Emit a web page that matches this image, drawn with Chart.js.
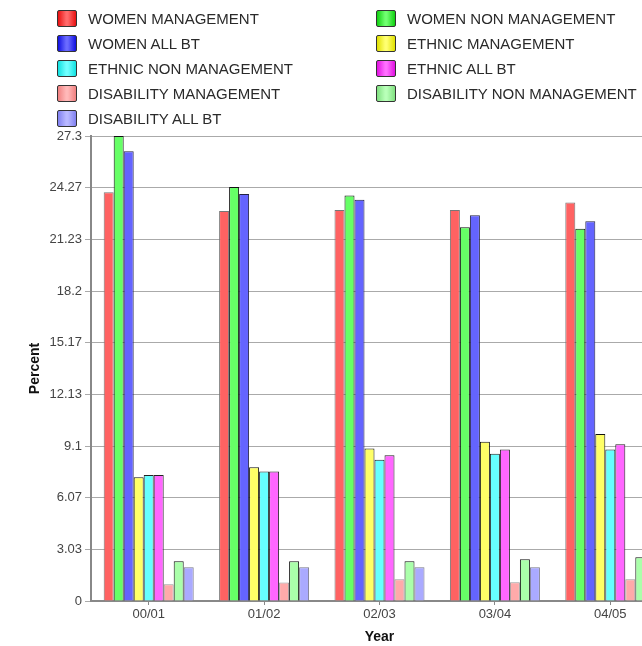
<!DOCTYPE html>
<html>
<head>
<meta charset="utf-8">
<script src="https://cdn.jsdelivr.net/npm/chart.js@4/dist/chart.umd.min.js"></script>
<style>
  html, body { margin: 0; padding: 0; background: #fff; overflow: hidden; }
  #wrap { position: relative; width: 700px; height: 646px; }
  #chart { position: absolute; left: 0; top: 0; }
  #legend { position: absolute; left: 0; top: 0; width: 700px; height: 130px;
    font-family: "Liberation Sans", Arial, sans-serif; font-size: 15px; color: #2a2a2a; }
  .item { position: absolute; height: 17px; line-height: 17px; white-space: nowrap; }
  .box { position: absolute; left: 0; top: 0; width: 18px; height: 15px;
    border: 1px solid #333; border-radius: 2px; }
  .lbl { position: absolute; left: 31px; top: 0; }
</style>
</head>
<body>
<div id="wrap">
  <canvas id="chart" width="700" height="646"></canvas>
  <div id="legend"></div>
</div>
<script>
// Financial years on the category axis
const years = ['00/01', '01/02', '02/03', '03/04', '04/05'];

// Representation figures (percent) per group
const womenManagement       = [24.0, 22.9, 22.95, 22.95, 23.4];
const womenNonManagement    = [27.3, 24.3, 23.8, 21.95, 21.85];
const womenAllBT            = [26.4, 23.9, 23.55, 22.65, 22.3];
const ethnicManagement      = [7.27, 7.85, 8.95, 9.35, 9.8];
const ethnicNonManagement   = [7.4, 7.6, 8.3, 8.65, 8.9];
const ethnicAllBT           = [7.4, 7.6, 8.55, 8.9, 9.2];
const disabilityManagement  = [0.98, 1.08, 1.28, 1.1, 1.28];
const disabilityNonMgmt     = [2.33, 2.33, 2.33, 2.45, 2.57];
const disabilityAllBT       = [1.98, 1.98, 1.98, 1.98, 2.0];

// Value axis
const yMax = 27.3;
const yTickLabels = ['0', '3.03', '6.07', '9.1', '12.13', '15.17', '18.2', '21.23', '24.27', '27.3'];

const seriesNames = [
  'WOMEN MANAGEMENT', 'WOMEN NON MANAGEMENT', 'WOMEN ALL BT',
  'ETHNIC MANAGEMENT', 'ETHNIC NON MANAGEMENT', 'ETHNIC ALL BT',
  'DISABILITY MANAGEMENT', 'DISABILITY NON MANAGEMENT', 'DISABILITY ALL BT'
];
const seriesValues = [
  womenManagement, womenNonManagement, womenAllBT,
  ethnicManagement, ethnicNonManagement, ethnicAllBT,
  disabilityManagement, disabilityNonMgmt, disabilityAllBT
];

// Bar fills, outlines and legend swatch shading
const fills   = ['#ff6262', '#66ff66', '#6464ff', '#ffff66', '#66ffff', '#ff66ff', '#ffaaaa', '#aaffaa', '#aaaaff'];
const borders = ['#777777', '#111111', '#222244', '#111111', '#222222', '#222222', '#999999', '#111111', '#777788'];
const swatchEdge = ['#e81010', '#10d010', '#1010e0', '#e0e000', '#10e0e0', '#e010e0', '#f08080', '#80e080', '#8080f0'];
const swatchMid  = ['#ff6a6a', '#70ff70', '#6a6aff', '#ffff70', '#70ffff', '#ff70ff', '#ffb8b8', '#b8ffb8', '#b8b8ff'];

const FONT = '"Liberation Sans", Arial, sans-serif';

// HTML legend in two columns, filled row by row
const legendEl = document.getElementById('legend');
seriesNames.forEach((name, i) => {
  const col = i % 2, row = Math.floor(i / 2);
  const item = document.createElement('div');
  item.className = 'item';
  item.style.left = (col === 0 ? 57 : 376) + 'px';
  item.style.top = (10 + row * 25) + 'px';
  const box = document.createElement('div');
  box.className = 'box';
  box.style.background = `linear-gradient(to right, ${swatchEdge[i]} 0%, ${swatchMid[i]} 45%, ${swatchMid[i]} 55%, ${swatchEdge[i]} 100%)`;
  const lbl = document.createElement('span');
  lbl.className = 'lbl';
  lbl.textContent = name;
  item.appendChild(box);
  item.appendChild(lbl);
  legendEl.appendChild(item);
});

const datasets = seriesValues.map((vals, i) => ({
  label: seriesNames[i],
  data: vals,
  backgroundColor: fills[i],
  borderColor: borders[i],
  borderWidth: 1,
  barPercentage: 1.0,
  categoryPercentage: 0.78
}));

const tickValues = yTickLabels.map((_, k) => k * yMax / (yTickLabels.length - 1));

new Chart(document.getElementById('chart'), {
  type: 'bar',
  data: { labels: years, datasets },
  options: {
    responsive: false,
    animation: false,
    layout: { padding: { top: 136, right: 32, bottom: 0, left: 0 } },
    plugins: { legend: { display: false }, tooltip: { enabled: false } },
    scales: {
      x: {
        grid: { display: true, drawOnChartArea: false, offset: false, tickLength: 4, color: '#888' },
        border: { display: true, color: '#888', width: 2 },
        ticks: { color: '#444', padding: 2, font: { family: FONT, size: 13 } },
        title: { display: true, text: 'Year', color: '#111', padding: { top: 0, bottom: 0 },
          font: { family: FONT, size: 14, weight: 'bold' } },
        afterFit: (scale) => { scale.height = 45; }
      },
      y: {
        min: 0,
        max: yMax,
        grid: { color: '#aaaaaa', lineWidth: 1, tickLength: 6 },
        border: { display: true, color: '#888', width: 2 },
        afterBuildTicks: (scale) => { scale.ticks = tickValues.map(v => ({ value: v })); },
        ticks: {
          color: '#444', padding: 3,
          font: { family: FONT, size: 13 },
          callback: (v, idx) => yTickLabels[idx]
        },
        title: { display: true, text: 'Percent', color: '#111', padding: { top: 27, bottom: 0 },
          font: { family: FONT, size: 14, weight: 'bold' } },
        afterFit: (scale) => { scale.width = 91; }
      }
    }
  }
});
</script>
</body>
</html>
